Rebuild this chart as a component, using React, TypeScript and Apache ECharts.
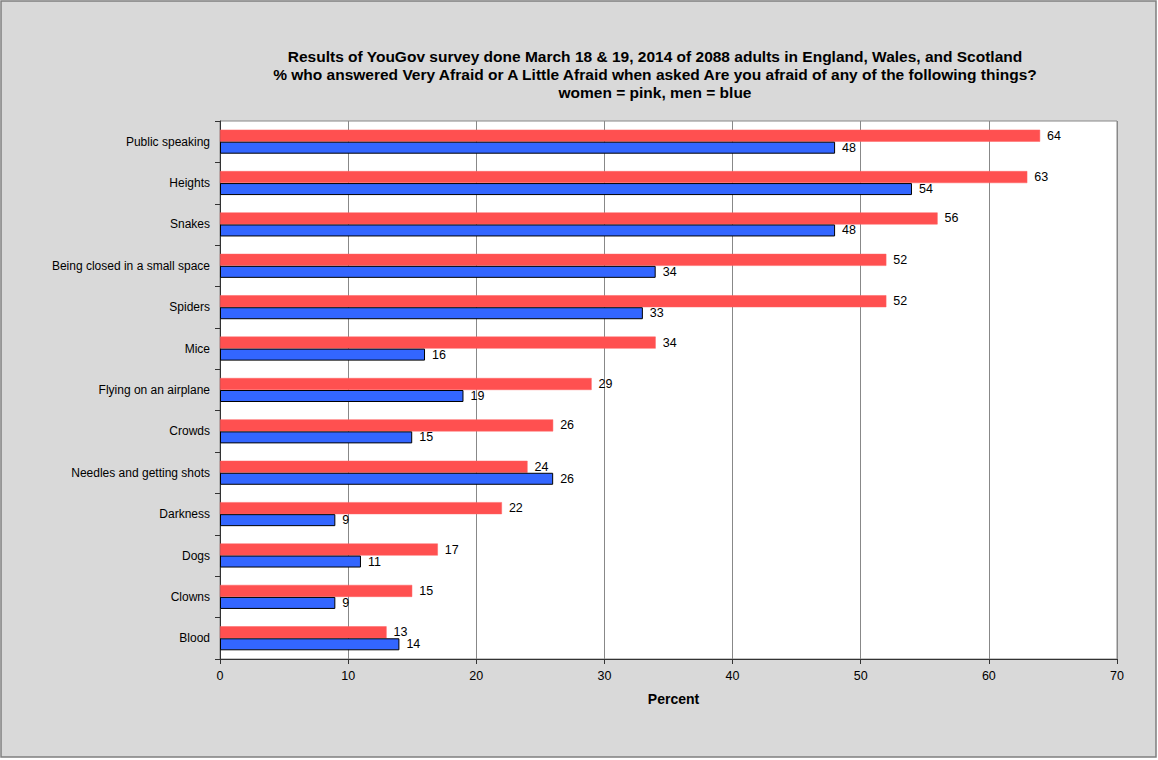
import React, { useEffect, useRef } from "react";
import * as echarts from "echarts";

const categories = [
  "Public speaking",
  "Heights",
  "Snakes",
  "Being closed in a small space",
  "Spiders",
  "Mice",
  "Flying on an airplane",
  "Crowds",
  "Needles and getting shots",
  "Darkness",
  "Dogs",
  "Clowns",
  "Blood",
];
const women = [64, 63, 56, 52, 52, 34, 29, 26, 24, 22, 17, 15, 13];
const men = [48, 54, 48, 34, 33, 16, 19, 15, 26, 9, 11, 9, 14];
const titleLines = [
  "Results of YouGov survey done March 18 & 19, 2014 of 2088 adults in England, Wales, and Scotland",
  "% who answered Very Afraid or A Little Afraid when asked Are you afraid of any of the following things?",
  "women = pink, men = blue",
];

const FONT = "'Liberation Sans', Arial, Helvetica, sans-serif";

export default function App() {
  const ref = useRef<HTMLDivElement>(null);
  useEffect(() => {
    document.body.style.margin = "0";
    const chart = echarts.init(ref.current!, undefined, { renderer: "svg" });
    chart.setOption({
      animation: false,
      backgroundColor: "#ffffff",
      textStyle: { fontFamily: FONT },
      graphic: [
        {
          type: "rect",
          z: -10,
          silent: true,
          shape: { x: 1, y: 1, width: 1155, height: 756 },
          style: { fill: "#d9d9d9", stroke: "#7f7f7f", lineWidth: 1.5 },
        },
      ],
      title: {
        text: titleLines.join("\n"),
        left: 650,
        textAlign: "center",
        top: 42,
        textStyle: {
          fontFamily: FONT,
          fontSize: 15.5,
          fontWeight: "bold",
          color: "#000",
          lineHeight: 18,
        },
      },
      grid: {
        left: 220,
        right: 41,
        top: 121,
        bottom: 101,
        show: true,
        backgroundColor: "#ffffff",
        borderColor: "#888888",
        borderWidth: 1,
      },
      xAxis: {
        type: "value",
        min: 0,
        max: 70,
        interval: 10,
        name: "Percent",
        nameLocation: "middle",
        nameGap: 33,
        nameTextStyle: {
          fontFamily: FONT,
          fontSize: 14,
          fontWeight: "bold",
          color: "#000",
          padding: [0, 0, 0, 10],
        },
        axisLine: { show: true, lineStyle: { color: "#333", width: 1 } },
        axisTick: { show: true, length: 5, lineStyle: { color: "#333" } },
        axisLabel: { fontFamily: FONT, fontSize: 12.5, color: "#000", margin: 10 },
        splitLine: { show: true, lineStyle: { color: "#888888", width: 1 } },
      },
      yAxis: {
        type: "category",
        data: categories,
        inverse: true,
        axisLine: { show: true, lineStyle: { color: "#333", width: 1 } },
        axisTick: { show: true, length: 5, lineStyle: { color: "#333" } },
        axisLabel: { fontFamily: FONT, fontSize: 12, color: "#000", margin: 10 },
        splitLine: { show: false },
      },
      series: [
        {
          name: "women",
          type: "bar",
          data: women,
          barWidth: 12,
          barGap: "0%",
          itemStyle: { color: "#ff5050", borderColor: "#ff6060", borderWidth: 0.5 },
          label: {
            show: true,
            position: "right",
            distance: 7,
            fontFamily: FONT,
            fontSize: 12.5,
            color: "#000",
          },
        },
        {
          name: "men",
          type: "bar",
          data: men,
          barWidth: 12,
          barGap: "0%",
          itemStyle: { color: "#3366ff", borderColor: "#000", borderWidth: 1 },
          label: {
            show: true,
            position: "right",
            distance: 7,
            fontFamily: FONT,
            fontSize: 12.5,
            color: "#000",
          },
        },
      ],
    });
    return () => chart.dispose();
  }, []);
  return <div ref={ref} style={{ width: 1158, height: 760 }} />;
}
